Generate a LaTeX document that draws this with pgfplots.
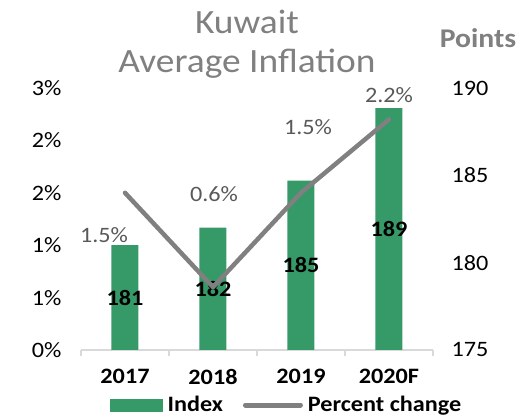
\documentclass[border=0pt]{standalone}
\usepackage{pgfplots}
\pgfplotsset{compat=1.18}
\usepackage{fontspec}
\setmainfont{Carlito}[FakeStretch=1.1]
\definecolor{barg}{RGB}{53,153,104}
\definecolor{lineg}{RGB}{128,128,128}
\definecolor{axg}{RGB}{217,217,217}
\definecolor{labg}{RGB}{89,89,89}
\definecolor{titleg}{RGB}{128,128,128}

\pgfplotstableread{
x idx lab
0 181.0 181
1 182.0 182
2 184.7 185
3 188.85 189
}\indexdata

\pgfplotstableread{
x pc dx dy
0 1.5 -21 -42
1 0.6 1 93
2 1.5 7 66
3 2.2 0 24
}\pcdata

\newcommand{\tickfont}{\fontsize{22}{26}\selectfont}

\begin{document}
\begin{tikzpicture}
\useasboundingbox (-81pt,-69pt) rectangle (444pt,350pt);
\pgfplotsset{
  base/.style={
    scale only axis, width=352pt, height=262pt,
    xmin=-0.5, xmax=3.5, clip=false,
    major tick length=0pt,
    tick label style={font=\tickfont},
    /pgf/number format/assume math mode=true,
  }
}
% bars: Index on the right axis
\begin{axis}[base,
  ymin=175, ymax=190, ytick={175,180,185,190},
  axis y line*=right, y axis line style={draw=none},
  axis x line*=bottom, x axis line style={draw=axg, line width=1.2pt, -},
  xtick={0,1,2,3}, xticklabels={2017,2018,2019,2020F},
  minor xtick={-0.5,0.5,1.5,2.5,3.5},
  minor tick length=6pt, tick align=outside,
  minor x tick style={draw=axg, line width=1.2pt},
  major x tick style={draw=none}, ytick style={draw=none},
  xticklabel style={font=\bfseries\tickfont, yshift=-16pt},
  yticklabel style={xshift=15pt},
]
\addplot[ybar, bar width=27pt, bar shift=0pt, fill=barg, draw=none,
  nodes near coords, point meta=explicit symbolic,
  nodes near coords align=center,
  visualization depends on={(\thisrow{idx}-175)*8.7333 \as \dy},
  every node near coord/.append style={font=\bfseries\tickfont, text=black,
    anchor=center, yshift={-\dy pt}}]
  table[x=x, y=idx, meta=lab] {\indexdata};
\end{axis}
% line: percent change on the left axis
\begin{axis}[base,
  ymin=0, ymax=2.5, ytick={0,0.5,...,2.5},
  yticklabels={0\%,1\%,1\%,2\%,2\%,3\%},
  axis y line*=left, y axis line style={draw=none},
  hide x axis, ytick style={draw=none},
  yticklabel style={xshift=-16pt},
  legend columns=2,
  legend style={draw=none, fill=none, inner sep=0pt,
    font=\bfseries\tickfont,
    at={(axis description cs:0.0824,-0.21)}, anchor=west,
    /tikz/every odd column/.append style={column sep=3pt},
    /tikz/every even column/.append style={column sep=18pt}},
]
\addlegendimage{legend image code/.code={\fill[barg] (0pt,-6pt) rectangle (52pt,6pt);}}
\addlegendentry{Index}
\addplot[lineg, line width=4.5pt, line cap=round, line join=round, mark=none,
  legend image code/.code={\draw[lineg, line width=5pt, line cap=round] (0pt,0pt) -- (55pt,0pt);},
  nodes near coords={\pgfplotspointmeta\%}, point meta=explicit symbolic,
  nodes near coords align=center,
  visualization depends on={\thisrow{dx} \as \ldx},
  visualization depends on={\thisrow{dy} \as \ldy},
  every node near coord/.append style={font=\tickfont, text=labg,
    anchor=center, xshift={\ldx pt}, yshift={\ldy pt}}]
  table[x=x, y=pc, meta=pc] {\pcdata};
\addlegendentry{Percent change}
\end{axis}
\node[font=\fontsize{34}{39}\selectfont, text=titleg, align=center] at (166pt,306pt) {Kuwait\\Average Inflation};
\node[font=\bfseries\fontsize{27}{32}\selectfont, text=titleg] at (397pt,312pt) {Points};
\end{tikzpicture}
\end{document}
